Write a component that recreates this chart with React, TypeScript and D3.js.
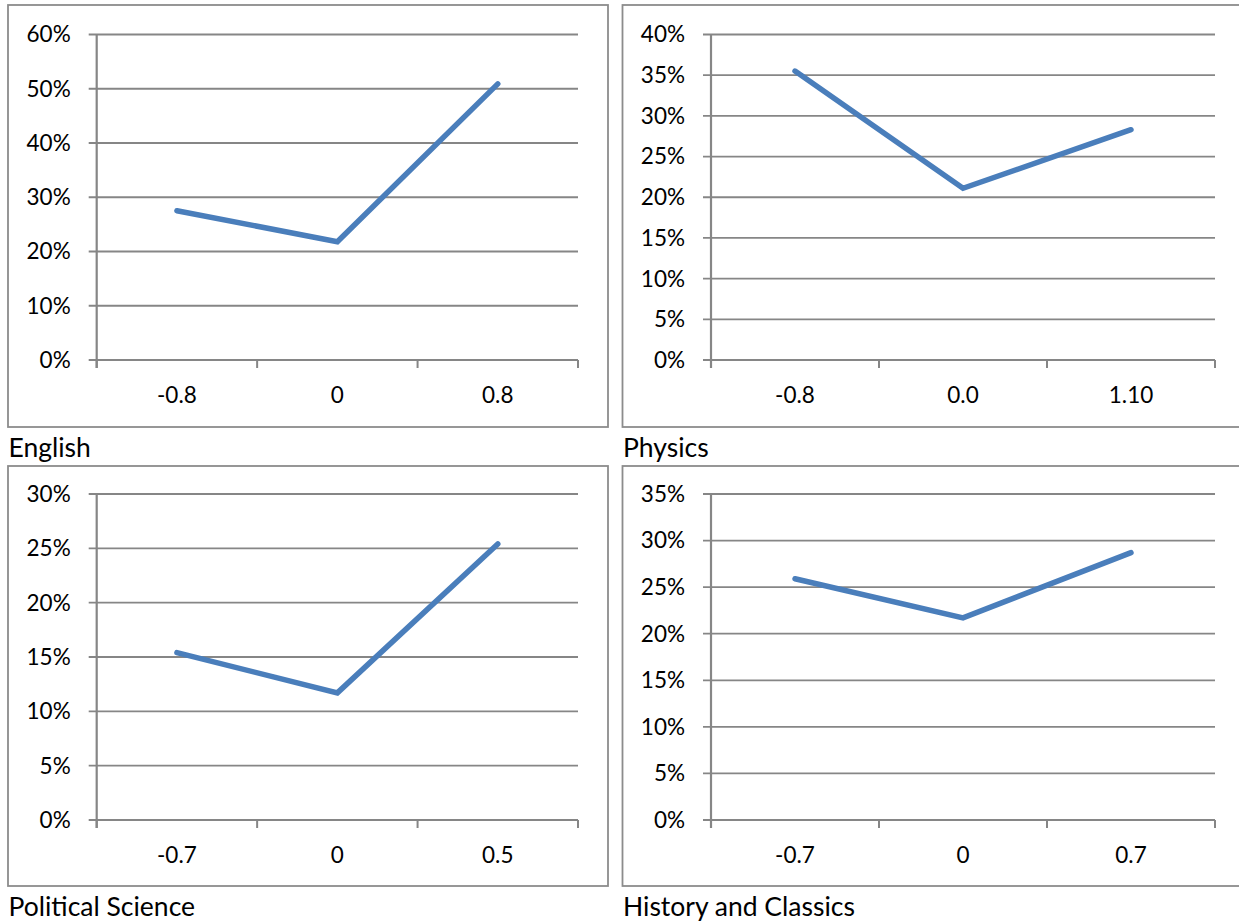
import React from "react";
import * as d3 from "d3";

const englishCats = ["-0.8", "0", "0.8"];
const englishVals = [0.275, 0.218, 0.509];
const englishTicks = [0, 0.1, 0.2, 0.3, 0.4, 0.5, 0.6];

const physicsCats = ["-0.8", "0.0", "1.10"];
const physicsVals = [0.355, 0.211, 0.283];
const physicsTicks = [0, 0.05, 0.1, 0.15, 0.2, 0.25, 0.3, 0.35, 0.4];

const polsciCats = ["-0.7", "0", "0.5"];
const polsciVals = [0.154, 0.117, 0.254];
const polsciTicks = [0, 0.05, 0.1, 0.15, 0.2, 0.25, 0.3];

const historyCats = ["-0.7", "0", "0.7"];
const historyVals = [0.259, 0.217, 0.287];
const historyTicks = [0, 0.05, 0.1, 0.15, 0.2, 0.25, 0.3, 0.35];

const FONT = "Lato, 'Open Sans', sans-serif";
const GRID = "#868686";
const LINE = "#4a7ebb";

type PanelProps = {
  box: [number, number, number, number];
  plot: [number, number, number, number];
  cats: string[];
  vals: number[];
  ticks: number[];
  title: string;
  titleY: number;
};

function Panel({ box, plot, cats, vals, ticks, title, titleY }: PanelProps) {
  const [bx, by, bw, bh] = box;
  const [l, t, r, b] = plot;
  const x = d3.scaleBand<string>().domain(cats).range([l, r]);
  const y = d3.scaleLinear().domain([0, d3.max(ticks) as number]).range([b, t]);
  const line = d3
    .line<number>()
    .x((_, i) => (x(cats[i]) as number) + x.bandwidth() / 2)
    .y((d) => y(d));
  const edges = cats.map((c) => x(c) as number).concat([r]);
  return (
    <g>
      <rect x={bx} y={by} width={bw} height={bh} fill="white" stroke="#8c8c8c" strokeWidth={1.8} />
      {ticks.map((tv) => (
        <g key={tv}>
          <line x1={l - 8} x2={r} y1={y(tv)} y2={y(tv)} stroke={GRID} strokeWidth={tv === 0 ? 2.2 : 1.8} />
          <text x={l - 26} y={y(tv)} dy="0.35em" textAnchor="end" fontFamily={FONT} fontSize={22.5} fill="#000">
            {d3.format(".0%")(tv)}
          </text>
        </g>
      ))}
      <line x1={l} x2={l} y1={t} y2={b + 8} stroke={GRID} strokeWidth={2.2} />
      {edges.map((e, i) => (
        <line key={i} x1={e} x2={e} y1={b} y2={b + 8} stroke={GRID} strokeWidth={2} />
      ))}
      {cats.map((c) => (
        <text key={c} x={(x(c) as number) + x.bandwidth() / 2} y={b + 43} textAnchor="middle" fontFamily={FONT} fontSize={22.5} fill="#000">
          {c}
        </text>
      ))}
      <path d={line(vals) || ""} fill="none" stroke={LINE} strokeWidth={5.5} strokeLinecap="round" strokeLinejoin="miter" />
      <text x={bx + 0.5} y={titleY} fontFamily={FONT} fontSize={26.5} fill="#000">
        {title}
      </text>
    </g>
  );
}

export default function App() {
  return (
    <svg width={1239} height={924} style={{ position: "absolute", left: 0, top: 0, background: "white" }}>
      <rect x={0} y={0} width={1239} height={924} fill="white" />
      <Panel box={[8, 5, 600, 422]} plot={[96.7, 34.5, 578, 360]} cats={englishCats} vals={englishVals} ticks={englishTicks} title="English" titleY={456.5} />
      <Panel box={[622.5, 5, 630, 422]} plot={[711, 34.5, 1215, 360]} cats={physicsCats} vals={physicsVals} ticks={physicsTicks} title="Physics" titleY={456.5} />
      <Panel box={[8, 466, 600, 420]} plot={[96.7, 494, 578, 820]} cats={polsciCats} vals={polsciVals} ticks={polsciTicks} title="Political Science" titleY={916} />
      <Panel box={[622.5, 466, 630, 420]} plot={[711, 494, 1215, 820]} cats={historyCats} vals={historyVals} ticks={historyTicks} title="History and Classics" titleY={916} />
    </svg>
  );
}
